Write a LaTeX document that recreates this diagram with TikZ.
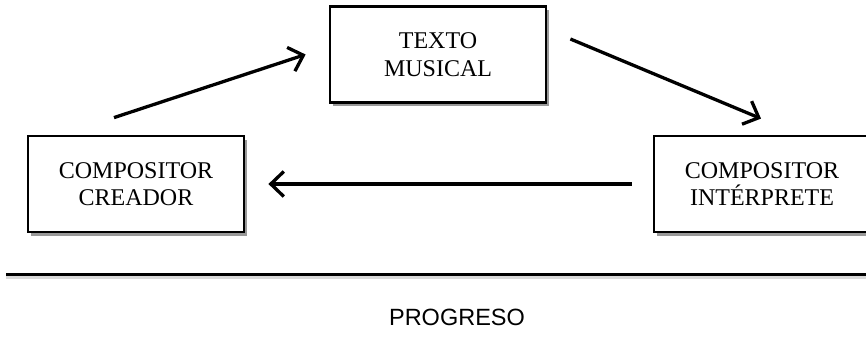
\documentclass[tikz,border=0pt]{standalone}
\usepackage{fontspec}
\setmainfont{Liberation Serif}
\newfontfamily\arialfont{Liberation Sans}
\usetikzlibrary{arrows.meta,shadows}
\begin{document}
\begin{tikzpicture}[x=1pt,y=-1pt,
  box/.style={draw=black, line width=2.8pt, fill=white, minimum width=216pt,
    minimum height=96pt, align=center, inner sep=0pt,
    font=\fontsize{24}{27.5}\selectfont,
    drop shadow={shadow xshift=2.5pt, shadow yshift=-3.5pt, opacity=0.4, fill=black}},
  flow/.style={line width=3.3pt, -{Straight Barb[length=13pt,width=25pt]}},
  baseline/.style={line width=3pt},
  lbl/.style={font=\arialfont\fontsize{23.5}{27}\selectfont}]
\useasboundingbox (0,0) rectangle (866,337);
\node[box] (top) at (438,54.5) {TEXTO\\MUSICAL};
\node[box] (left) at (136,184) {COMPOSITOR\\CREADOR};
\node[box] (right) at (762,184) {COMPOSITOR\\INTÉRPRETE};
\draw[flow] ([shift={(-22,-17)}]left.north) -- ([shift={(-23,0)}]top.west);
\draw[flow] ([shift={(23,-15.5)}]top.east) -- ([shift={(-1,-16)}]right.north);
\draw[flow] ([shift={(-21,0)}]right.west) -- ([shift={(23,0)}]left.east);
\coordinate (l1) at (6,274);
\coordinate (l2) at (870,274);
\draw[black!25, line width=3pt, opacity=0.6] ([yshift=-3pt]l1) -- ([yshift=-3pt]l2);
\draw[baseline] (l1) -- (l2);
\node[lbl] (prog) at (457,317) {PROGRESO};
\end{tikzpicture}
\end{document}
